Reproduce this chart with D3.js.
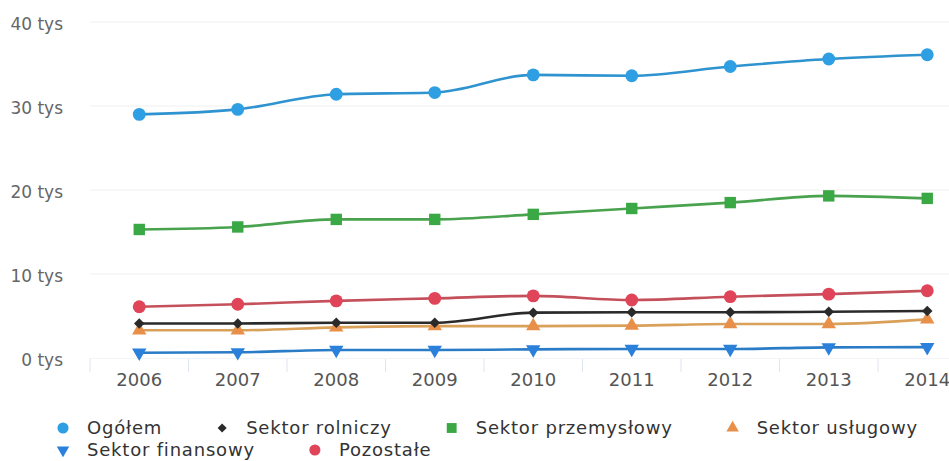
<!DOCTYPE html>
<html><head><meta charset="utf-8">
<script src="https://cdn.jsdelivr.net/npm/d3@7/dist/d3.min.js"></script>
<style>html,body{margin:0;padding:0;background:#fff;}svg{display:block;}</style>
</head><body>
<svg id="c" width="949" height="461"></svg>
<script>
const years = ["2006","2007","2008","2009","2010","2011","2012","2013","2014"];
const yTicks = [0, 10, 20, 30, 40];
const yTickLabels = ["0 tys","10 tys","20 tys","30 tys","40 tys"];
const seriesNames = ["Ogółem","Sektor rolniczy","Sektor przemysłowy","Sektor usługowy","Sektor finansowy","Pozostałe"];
const ogolem      = [29.0, 29.6, 31.4, 31.6, 33.7, 33.6, 34.7, 35.6, 36.1];
const rolniczy    = [4.1, 4.1, 4.2, 4.2, 5.4, 5.45, 5.45, 5.5, 5.6];
const przemyslowy = [15.3, 15.6, 16.5, 16.5, 17.1, 17.8, 18.5, 19.3, 19.0];
const uslugowy    = [3.3, 3.3, 3.65, 3.8, 3.8, 3.85, 4.05, 4.05, 4.6];
const finansowy   = [0.63, 0.68, 0.95, 0.95, 1.03, 1.07, 1.07, 1.27, 1.3];
const pozostale   = [6.1, 6.4, 6.8, 7.1, 7.4, 6.9, 7.3, 7.6, 8.0];

const seriesValues = [ogolem, rolniczy, przemyslowy, uslugowy, finansowy, pozostale];
const styles = [
  {line:"#2e93cf", fill:"#2f9fe3", sym:d3.symbolCircle, size:130},
  {line:"#2a2a2a", fill:"#2a2a2a", sym:d3.symbolSquare, size:55, rot:45},
  {line:"#48a24e", fill:"#3aa845", sym:d3.symbolSquare, size:130},
  {line:"#d9a05a", fill:"#e8904a", sym:d3.symbolTriangle, size:90},
  {line:"#2a7cc6", fill:"#2a80da", sym:d3.symbolTriangle, size:90, rot:180},
  {line:"#c4505c", fill:"#e04458", sym:d3.symbolCircle, size:130}
];
const drawOrder = [0, 2, 5, 3, 1, 4];

const svg = d3.select("#c");
const x = d3.scaleBand().domain(years).range([90, 90 + 98.5 * years.length]);
const y = d3.scaleLinear().domain([0, 40]).range([358, 22]);
const font = "DejaVu Sans, Verdana, sans-serif";

// gridlines
svg.append("g").selectAll("line").data(yTicks.filter(d => d > 0)).join("line")
  .attr("x1", 90).attr("x2", 949).attr("y1", d => y(d)).attr("y2", d => y(d))
  .attr("stroke", "#f0f0f0").attr("stroke-width", 1);

// y labels
svg.append("g").selectAll("text").data(yTicks).join("text")
  .attr("x", 63).attr("y", d => y(d) + 8)
  .attr("text-anchor", "end").attr("font-family", font).attr("font-size", 17)
  .attr("fill", "#666").text((d, i) => yTickLabels[i]);

// x axis ticks at band boundaries
const bounds = years.map(d => x(d));
svg.append("g").selectAll("line").data(bounds).join("line")
  .attr("x1", d => d).attr("x2", d => d).attr("y1", 358).attr("y2", 372)
  .attr("stroke", "#dfe4ee").attr("stroke-width", 1);
svg.append("line").attr("x1", 90).attr("x2", 949).attr("y1", 358.5).attr("y2", 358.5)
  .attr("stroke", "#f3f4f7");

// x labels
svg.append("g").selectAll("text").data(years).join("text")
  .attr("x", d => x(d) + x.bandwidth() / 2).attr("y", 386)
  .attr("text-anchor", "middle").attr("font-family", font).attr("font-size", 18)
  .attr("fill", "#555").text(d => d);

// lines
const line = d3.line()
  .x((d, i) => x(years[i]) + x.bandwidth() / 2)
  .y(d => y(d))
  .curve(d3.curveMonotoneX);

drawOrder.forEach(si => {
  const st = styles[si];
  const g = svg.append("g");
  g.append("path").attr("d", line(seriesValues[si]))
    .attr("fill", "none").attr("stroke", st.line).attr("stroke-width", 2.6);
  g.selectAll("path.m").data(seriesValues[si]).join("path").attr("class", "m")
    .attr("d", d3.symbol().type(st.sym).size(st.size)())
    .attr("transform", (d, i) => `translate(${x(years[i]) + x.bandwidth() / 2},${y(d)})` + (st.rot ? ` rotate(${st.rot})` : ""))
    .attr("fill", st.fill);
});

// legend
const leg = svg.append("g");
let lx = 63, ly = 428;
seriesNames.forEach((name, si) => {
  const st = styles[si];
  const item = leg.append("g");
  const t = item.append("text").attr("x", 24).attr("y", 6)
    .attr("font-family", font).attr("font-size", 18).attr("letter-spacing", 0.8)
    .attr("fill", "#333").text(name);
  const w = t.node().getComputedTextLength();
  if (lx + 24 + w > 945) { lx = 63; ly += 22; }
  item.attr("transform", `translate(${lx},${ly})`);
  item.append("path")
    .attr("d", d3.symbol().type(st.sym).size(st.size * 0.75)())
    .attr("transform", st.rot ? `rotate(${st.rot})` : null)
    .attr("fill", st.fill);
  lx += 24 + w + 60;
});
</script>
</body></html>
